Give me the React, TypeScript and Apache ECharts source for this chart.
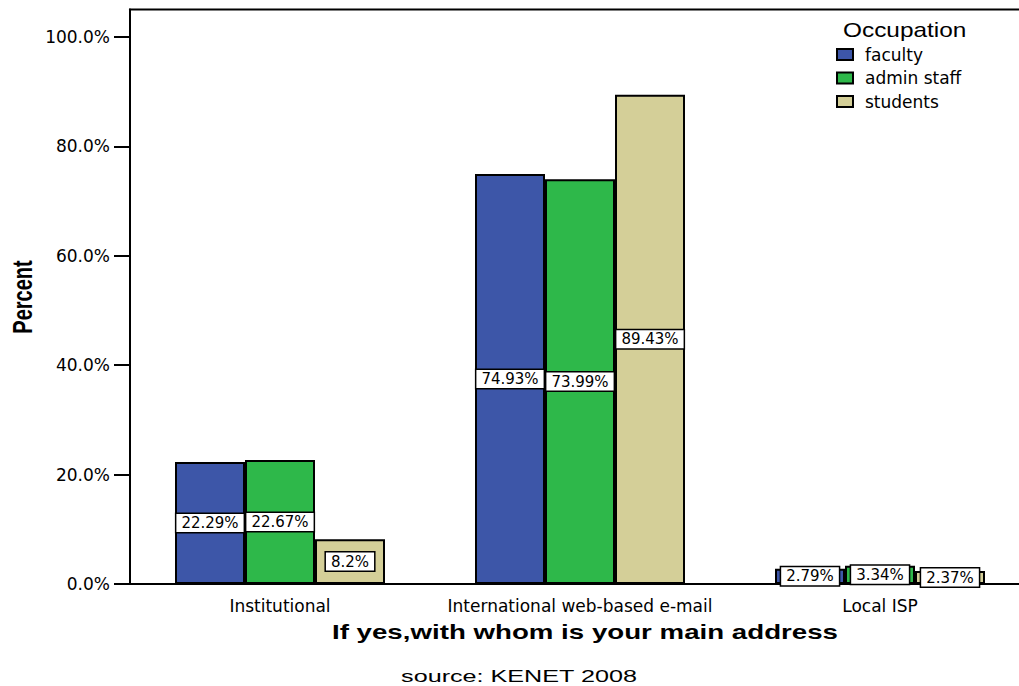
import React, { useEffect, useRef } from "react";
import * as echarts from "echarts";

const categories = ["Institutional", "International web-based e-mail", "Local ISP"];
const seriesNames = ["faculty", "admin staff", "students"];
const faculty = [22.29, 74.93, 2.79];
const adminStaff = [22.67, 73.99, 3.34];
const students = [8.2, 89.43, 2.37];
const yTicks = [0, 20, 40, 60, 80, 100];
const colors = ["#3D56A8", "#2EB84A", "#D4CF98"];

const REG = "'DejaVu Sans', Verdana, sans-serif";
const ARIAL = "'Liberation Sans', Arial, sans-serif";

export default function App() {
  const ref = useRef<HTMLDivElement>(null);
  useEffect(() => {
    if (!ref.current) return;
    const chart = echarts.init(ref.current, undefined, { renderer: "svg" });
    const values = [faculty, adminStaff, students];
    const series = seriesNames.map((name, i) => ({
      name,
      type: "bar",
      data: values[i],
      barWidth: 70,
      barGap: "0%",
      itemStyle: { color: colors[i], borderColor: "#000", borderWidth: 2 },
      label: {
        show: true,
        position: "inside",
        formatter: (p: any) => p.value + "%",
        color: "#000",
        fontFamily: REG,
        fontSize: 15,
        lineHeight: 15,
        backgroundColor: "#fff",
        borderColor: "#000",
        borderWidth: 1.5,
        padding: [2, 5, 1, 5],
      },
    }));
    chart.setOption({
      animation: false,
      grid: {
        left: 130,
        right: 0,
        top: 9.5,
        bottom: 102,
        show: true,
        borderColor: "#000",
        borderWidth: 2,
        backgroundColor: "transparent",
      },
      legend: {
        orient: "vertical",
        left: 836,
        top: 46,
        padding: 0,
        icon: "rect",
        itemWidth: 16,
        itemHeight: 11,
        itemGap: 6.5,
        data: seriesNames,
        textStyle: {
          fontFamily: REG,
          fontSize: 17,
          color: "#000",
          padding: [0, 0, 0, 7],
        },
      },
      xAxis: {
        type: "category",
        data: categories,
        axisLine: { lineStyle: { color: "#000", width: 2 } },
        axisTick: { alignWithLabel: true, length: 10, lineStyle: { color: "#000", width: 2 } },
        axisLabel: { fontFamily: REG, fontSize: 17, color: "#000", margin: 13, interval: 0 },
      },
      yAxis: {
        type: "value",
        min: 0,
        max: 105,
        interval: 20,
        splitLine: { show: false },
        axisLine: { show: true, lineStyle: { color: "#000", width: 2 } },
        axisTick: {
          show: true,
          length: 16,
          lineStyle: { color: "#000", width: 2 },
          customValues: yTicks,
        },
        axisLabel: {
          fontFamily: REG,
          fontSize: 17,
          color: "#000",
          margin: 20,
          customValues: yTicks,
          formatter: (v: number) => v.toFixed(1) + "%",
        },
      },
      graphic: [
        {
          type: "text",
          x: 843,
          y: 30,
          scaleX: 1.22,
          style: {
            text: "Occupation",
            fontFamily: ARIAL,
            fontSize: 20,
            fill: "#000",
            align: "left",
            verticalAlign: "middle",
          },
        },
        {
          type: "text",
          x: 585,
          y: 632,
          scaleX: 1.42,
          style: {
            text: "If yes,with whom is your main address",
            fontFamily: ARIAL,
            fontWeight: "bold",
            fontSize: 19.5,
            fill: "#000",
            align: "center",
            verticalAlign: "middle",
          },
        },
        {
          type: "text",
          x: 22,
          y: 297,
          rotation: Math.PI / 2,
          scaleY: 1.4,
          style: {
            text: "Percent",
            fontFamily: ARIAL,
            fontWeight: "bold",
            fontSize: 20,
            fill: "#000",
            align: "center",
            verticalAlign: "middle",
          },
        },
        {
          type: "text",
          x: 519,
          y: 676,
          scaleX: 1.48,
          style: {
            text: "source: KENET 2008",
            fontFamily: ARIAL,
            fontSize: 17,
            fill: "#000",
            align: "center",
            verticalAlign: "middle",
          },
        },
      ],
      series,
    });
    return () => chart.dispose();
  }, []);
  return (
    <div
      style={{ position: "absolute", left: 0, top: 0, width: 1019, height: 686, overflow: "hidden", background: "#fff" }}
    >
      <div ref={ref} style={{ width: 1030, height: 686 }} />
    </div>
  );
}
